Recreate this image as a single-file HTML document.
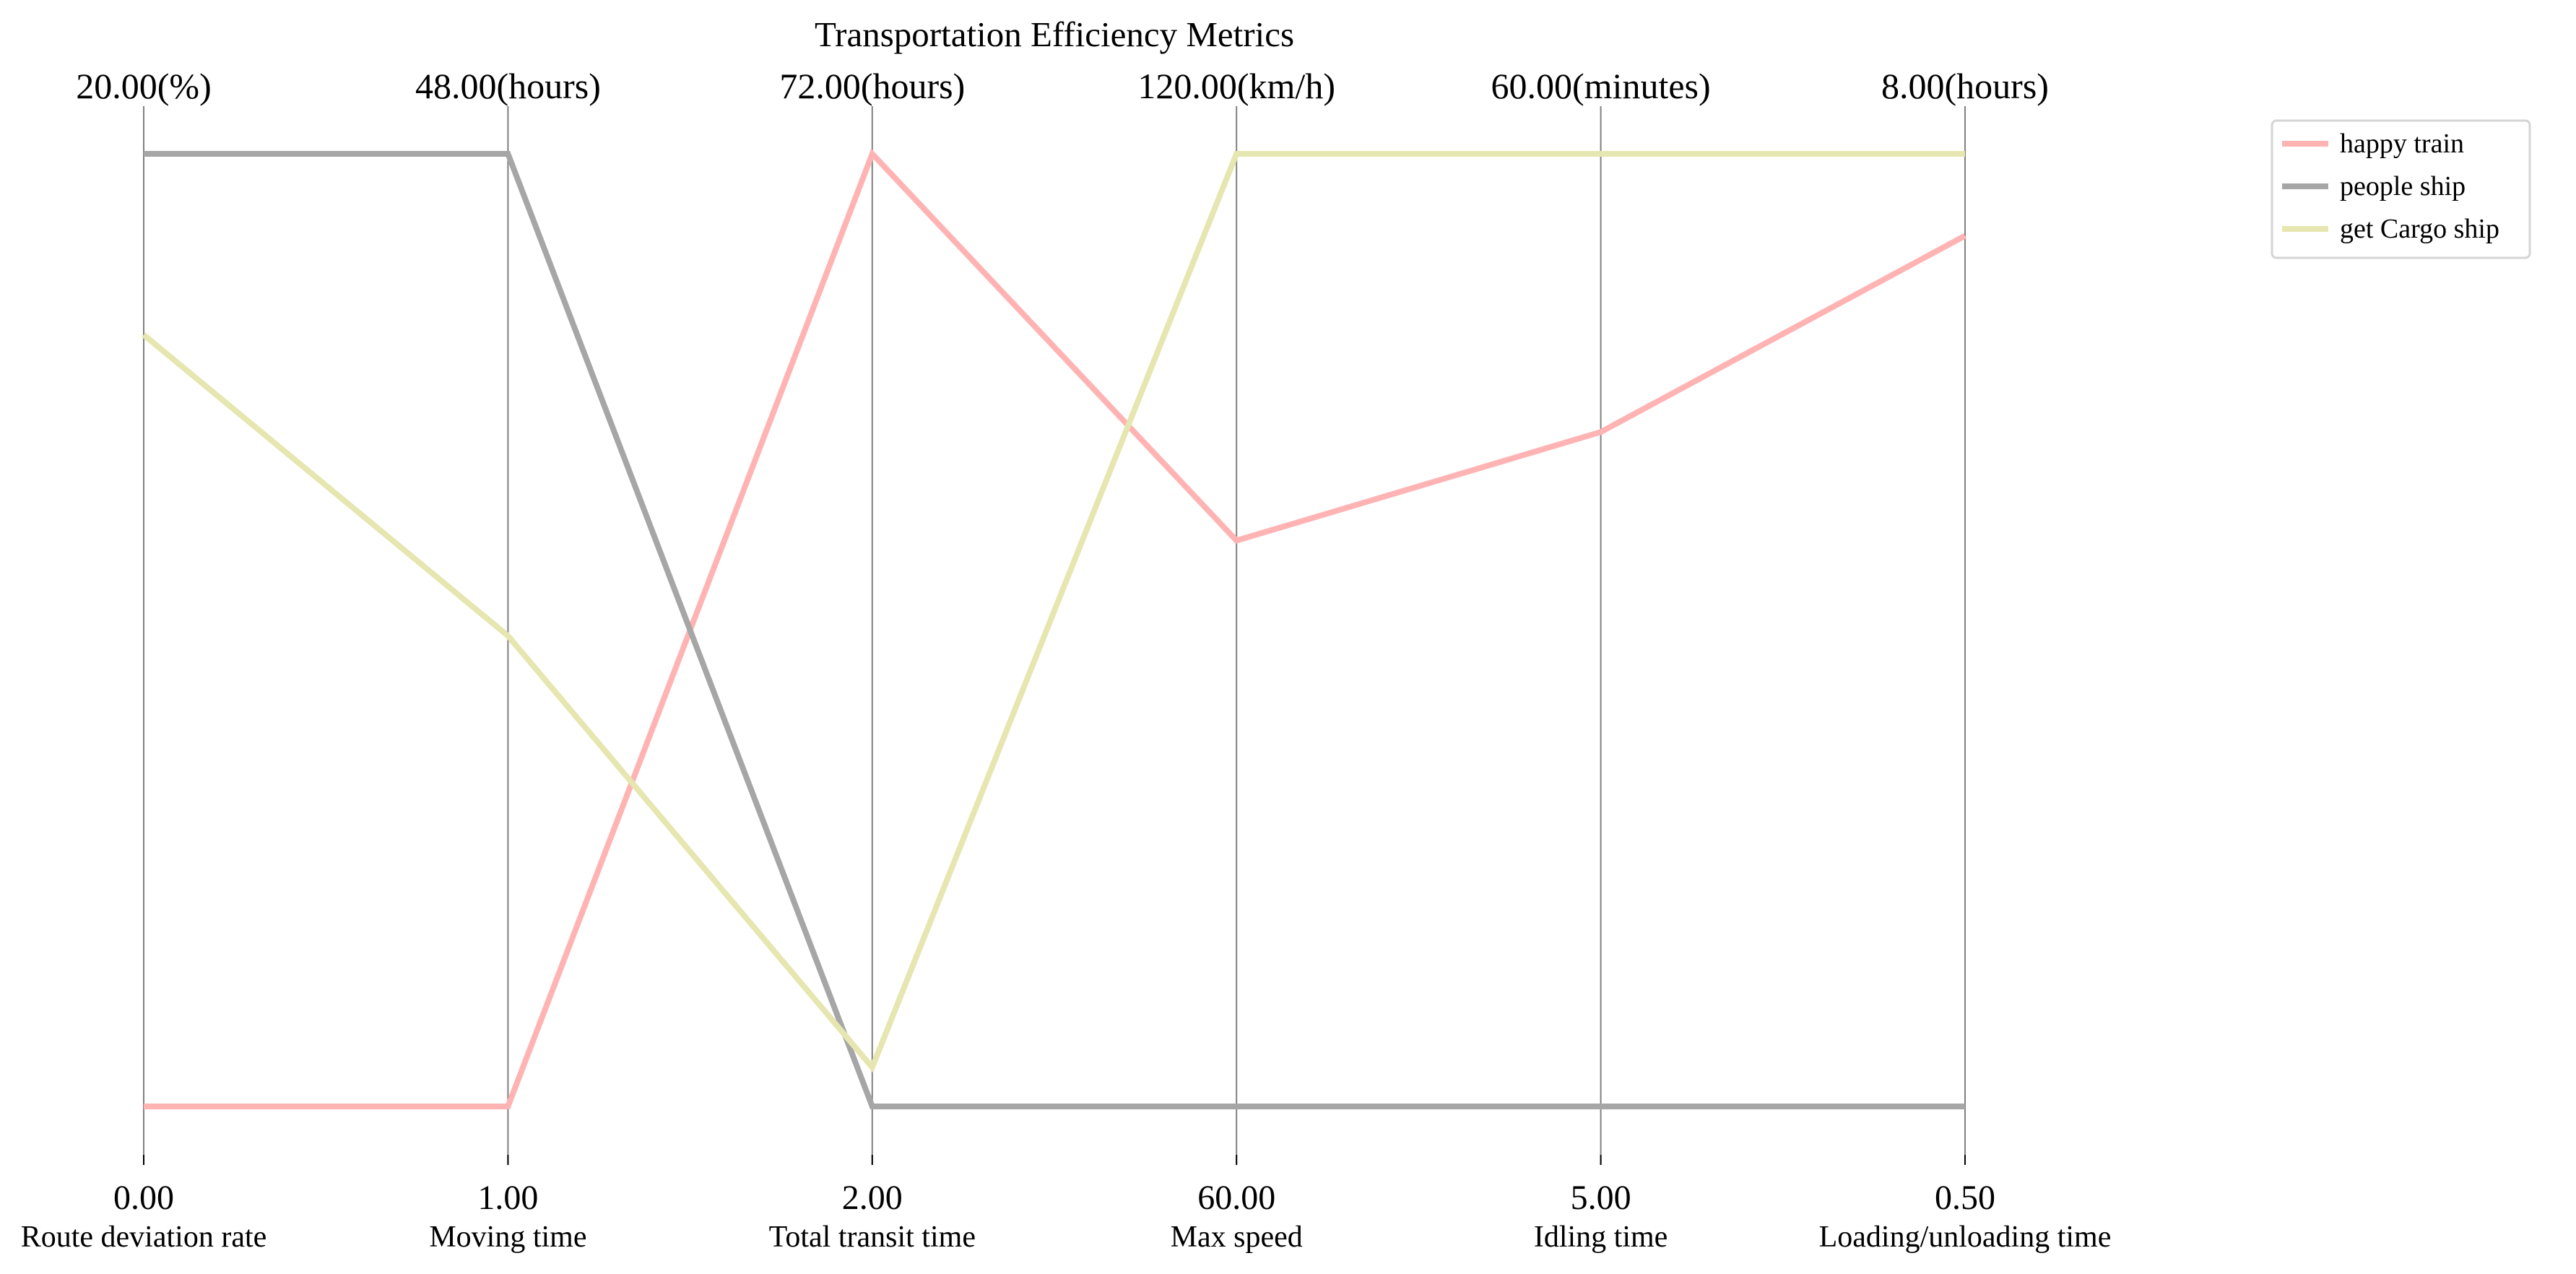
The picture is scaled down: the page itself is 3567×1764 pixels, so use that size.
<!DOCTYPE html>
<html><head><meta charset="utf-8"><style>
html,body{margin:0;padding:0;background:#fff;}
svg{display:block;font-family:"Liberation Serif",serif;}
</style></head><body>
<svg id="chart" width="3567" height="1764" viewBox="0 0 3567 1764" xmlns="http://www.w3.org/2000/svg">
<text x="1460" y="64" font-size="49" text-anchor="middle">Transportation Efficiency Metrics</text>
<g id="axes"></g>
<g id="series"></g>
<g id="legend">
<rect x="3146" y="167" width="357" height="190" rx="6" fill="#fff" stroke="#d4d4d4" stroke-width="3"/>
</g>
</svg>
<script>
const dimensions = ["Route deviation rate","Moving time","Total transit time","Max speed","Idling time","Loading/unloading time"];
const minLabels = ["0.00","1.00","2.00","60.00","5.00","0.50"];
const maxLabels = ["20.00(%)","48.00(hours)","72.00(hours)","120.00(km/h)","60.00(minutes)","8.00(hours)"];
const seriesNames = ["happy train","people ship","get Cargo ship"];
const happyTrain = [0, 0, 1, 0.594, 0.708, 0.914];
const peopleShip = [1, 1, 0, 0, 0, 0];
const cargoShip = [0.81, 0.494, 0.041, 1, 1, 1];
const seriesColors = ["#ffb3b3","#a6a6a6","#e6e6b0"];

const NS = "http://www.w3.org/2000/svg";
const x0 = 199, x1 = 2721, yTop = 213, yBot = 1532;
function xPos(i){ return x0 + (x1 - x0) * i / (dimensions.length - 1); }
function yPos(v){ return yBot - (yBot - yTop) * v; }
function mk(tag, attrs, parent){ const e = document.createElementNS(NS, tag); for (const k in attrs) e.setAttribute(k, attrs[k]); parent.appendChild(e); return e; }

const axes = document.getElementById('axes');
dimensions.forEach((d, i) => {
  const x = xPos(i);
  const ln = mk('line', {x1:x, x2:x, y1:147, y2:1613, stroke:'#808080', 'stroke-width':2}, axes);
  
  
  const tk = mk('line', {x1:x, x2:x, y1:1599, y2:1613, stroke:'#000', 'stroke-width':2}, axes);
  
  
  const mx = mk('text', {x:x, y:136, 'font-size':50, 'text-anchor':'middle'}, axes);
  mx.textContent = maxLabels[i];
  
  
  const mn = mk('text', {x:x, y:1674, 'font-size':48, 'text-anchor':'middle'}, axes);
  mn.textContent = minLabels[i];
  
  
  const nm = mk('text', {x:x, y:1726, 'font-size':42, 'text-anchor':'middle'}, axes);
  nm.textContent = d;
  
  
});

const seriesG = document.getElementById('series');
const legend = document.getElementById('legend');
[happyTrain, peopleShip, cargoShip].forEach((vals, s) => {
  const pts = vals.map((v, i) => xPos(i) + ',' + yPos(v)).join(' ');
  const pl = mk('polyline', {points:pts, fill:'none', stroke:seriesColors[s], 'stroke-width':8, 'stroke-linejoin':'miter'}, seriesG);
  
  
  const ly = 199 + s * 59;
  const ll = mk('line', {x1:3160, x2:3224, y1:ly, y2:ly, stroke:seriesColors[s], 'stroke-width':8}, legend);
  
  
  const lt = mk('text', {x:3240, y:ly + 12, 'font-size':38}, legend);
  lt.textContent = seriesNames[s];
  
  
});
</script>
</body></html>
